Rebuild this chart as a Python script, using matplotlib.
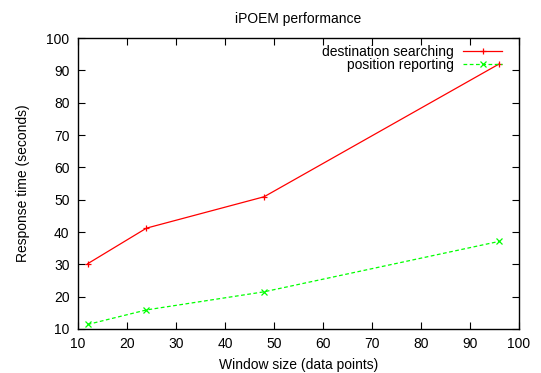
import matplotlib
matplotlib.use("Agg")
import matplotlib.pyplot as plt

window = [12, 24, 48, 96]
dest_search = [30.2, 41.2, 50.9, 92.0]
pos_report = [11.4, 15.9, 21.5, 37.1]
xticks = [10, 20, 30, 40, 50, 60, 70, 80, 90, 100]
yticks = [10, 20, 30, 40, 50, 60, 70, 80, 90, 100]

plt.rcParams['font.family'] = ['Liberation Sans', 'DejaVu Sans']
plt.rcParams['font.size'] = 10

fig = plt.figure(figsize=(5.41, 3.73), dpi=100)
ax = fig.add_axes([0.144, 0.118, 0.815, 0.780])

ax.plot(window, dest_search, color='#ff0000', lw=0.9, marker='+', ms=5, mew=0.9,
        label='destination searching')
ax.plot(window, pos_report, color='#00ff00', lw=0.9, ls=(0, (3, 2)), marker='x', ms=4, mew=0.9,
        label='position reporting')

ax.set_xlim(10, 100)
ax.set_ylim(10, 100)
ax.set_xticks(xticks)
ax.set_yticks(yticks)
ax.tick_params(direction='in', top=True, right=True, length=5, width=0.8, labelsize=10)
ax.tick_params(axis='x', pad=6)
ax.tick_params(axis='y', pad=6)
for s in ax.spines.values():
    s.set_linewidth(1.0)

ax.set_xlabel('Window size (data points)', fontsize=10, labelpad=5)
ax.set_ylabel('Response time (seconds)', fontsize=10, labelpad=12)
ax.set_title('iPOEM performance', fontsize=10, pad=11)

ax.legend(loc='upper right', bbox_to_anchor=(0.962, 0.976), frameon=False,
          markerfirst=False, fontsize=10, numpoints=1,
          handlelength=2.8, borderaxespad=0.0, borderpad=0.0,
          labelspacing=-0.05, handletextpad=0.65)

fig.savefig('out.png', dpi=100)
